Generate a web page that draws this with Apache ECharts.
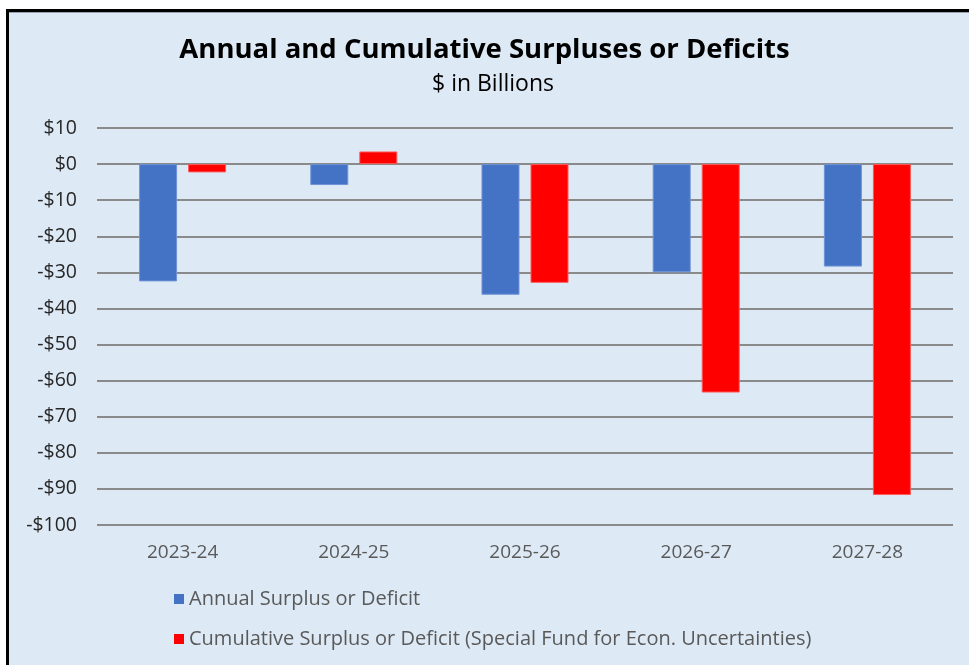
<!DOCTYPE html>
<html>
<head>
<meta charset="utf-8">
<script src="https://cdn.jsdelivr.net/npm/echarts@6/dist/echarts.min.js"></script>
<style>
  html, body { margin: 0; padding: 0; background: #ffffff; }
  #chart { width: 969px; height: 665px; }
</style>
</head>
<body>
<div id="chart"></div>
<script>
// Fiscal years
const years = ['2023-24', '2024-25', '2025-26', '2026-27', '2027-28'];
// Annual surplus (+) or deficit (-), $ billions
const annual = [-32.5, -5.8, -36.2, -30.0, -28.4];
// Cumulative balance of the Special Fund for Economic Uncertainties, $ billions
const cumulative = [-2.3, 3.5, -32.9, -63.3, -91.7];
// Value axis range and step
const yMin = -100, yMax = 10, yStep = 10;

const seriesNames = [
  'Annual Surplus or Deficit',
  'Cumulative Surplus or Deficit (Special Fund for Econ. Uncertainties)'
];

const font = '"Open Sans", Lato, sans-serif';

const chart = echarts.init(document.getElementById('chart'), null, { renderer: 'canvas' });

chart.setOption({
  backgroundColor: '#ffffff',
  animation: false,
  graphic: [
    { type: 'rect', z: -10, shape: { x: 7, y: 10, width: 962, height: 655 }, style: { fill: '#dde9f5' } },
    { type: 'line', z: -5, shape: { x1: 7, y1: 10.5, x2: 969, y2: 10.5 }, style: { stroke: '#000', lineWidth: 3 } },
    { type: 'line', z: -5, shape: { x1: 7, y1: 12.5, x2: 969, y2: 12.5 }, style: { stroke: '#9aa3ad', lineWidth: 1 } },
    { type: 'line', z: -5, shape: { x1: 7.5, y1: 9, x2: 7.5, y2: 665 }, style: { stroke: '#000', lineWidth: 3 } }
  ],
  title: [
    {
      text: 'Annual and Cumulative Surpluses or Deficits',
      left: 'center',
      top: 36,
      padding: 0,
      textStyle: { fontFamily: font, fontWeight: 'bold', fontSize: 27.5, color: '#000' }
    },
    {
      text: '$ in Billions',
      left: 432,
      top: 73,
      padding: 0,
      textStyle: { fontFamily: font, fontWeight: 'normal', fontSize: 23, color: '#000' }
    }
  ],
  legend: {
    orient: 'vertical',
    left: 169,
    top: 584,
    itemWidth: 10,
    itemHeight: 10,
    itemGap: 20,
    icon: 'rect',
    itemStyle: { borderWidth: 0 },
    textStyle: { fontFamily: font, fontSize: 20, color: '#595959' },
    data: seriesNames
  },
  grid: { left: 97, right: 16, top: 128, bottom: 140, containLabel: false },
  xAxis: {
    type: 'category',
    data: years,
    axisLine: { show: false },
    axisTick: { show: false },
    axisLabel: { fontFamily: font, fontSize: 19, color: '#595959', margin: 18 }
  },
  yAxis: {
    type: 'value',
    min: yMin,
    max: yMax,
    interval: yStep,
    axisLine: { show: false },
    axisTick: { show: false },
    axisLabel: {
      fontFamily: font, fontSize: 19.5, color: '#262626', margin: 20,
      formatter: v => (v < 0 ? '-$' + Math.abs(v) : '$' + v)
    },
    splitLine: { lineStyle: { color: '#8a8a8a', width: 2 } }
  },
  series: [
    {
      name: seriesNames[0],
      type: 'bar',
      data: annual,
      barWidth: 38,
      barGap: '29%',
      itemStyle: { color: '#4472c4', borderColor: '#6f93d6', borderWidth: 1 }
    },
    {
      name: seriesNames[1],
      type: 'bar',
      data: cumulative,
      barWidth: 38,
      itemStyle: { color: '#ff0000', borderColor: '#ff5a5a', borderWidth: 1 }
    }
  ]
});
</script>
</body>
</html>
